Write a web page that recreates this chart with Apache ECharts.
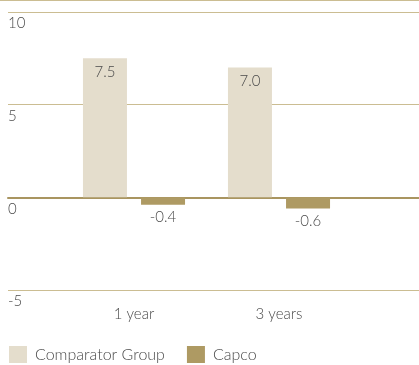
<!DOCTYPE html>
<html>
<head>
<meta charset="utf-8">
<script src="https://cdn.jsdelivr.net/npm/echarts@6/dist/echarts.min.js"></script>
<style>
  html, body { margin: 0; padding: 0; background: #ffffff; }
  #chart { width: 419px; height: 365px; }
</style>
</head>
<body>
<div id="chart"></div>
<script>
// Total shareholder return, annualised (%)
var categories = ['1 year', '3 years'];
var comparatorValues = [7.5, 7.0];
var capcoValues = [-0.4, -0.6];
var seriesNames = ['Comparator Group', 'Capco'];
var yTicks = { min: -5, max: 10, interval: 5 };

var FONT = 'Lato, "DejaVu Sans", sans-serif';
var TEXT = '#4a4a4a';
var GRID_COLOR = '#cbbd92';
var ZERO_COLOR = '#a99560';
var COMP_COLOR = '#e4ddcc';
var CAPCO_COLOR = '#ae9a63';

var chart = echarts.init(document.getElementById('chart'), null, { renderer: 'canvas' });

var labelStyle = { color: TEXT, fontFamily: FONT, fontSize: 15, fontWeight: 300 };

chart.setOption({
  animation: false,
  textStyle: { fontFamily: FONT },
  graphic: [{
    type: 'line',
    shape: { x1: 0, y1: 0.5, x2: 419, y2: 0.5 },
    style: { stroke: GRID_COLOR, lineWidth: 1 }
  }],
  grid: [
    { left: 8, right: 0, top: 12, bottom: 75 },
    { left: 61.5, width: 290, top: 12, bottom: 75 }
  ],
  legend: {
    data: seriesNames,
    left: 9,
    bottom: 2,
    padding: 0,
    itemWidth: 18,
    itemHeight: 17,
    itemGap: 22,
    icon: 'rect',
    textStyle: { color: TEXT, fontFamily: FONT, fontSize: 16, fontWeight: 300, padding: [0, 0, 0, 3] }
  },
  xAxis: [
    {
      gridIndex: 0, type: 'category', data: categories,
      axisLine: { show: true, onZero: true, lineStyle: { color: ZERO_COLOR, width: 2 } },
      axisTick: { show: false }, axisLabel: { show: false }, splitLine: { show: false }
    },
    {
      gridIndex: 1, type: 'category', data: categories,
      axisLine: { show: false }, axisTick: { show: false },
      axisLabel: { margin: 17, color: TEXT, fontFamily: FONT, fontSize: 15, fontWeight: 300 }
    }
  ],
  yAxis: [
    {
      gridIndex: 0, type: 'value',
      min: yTicks.min, max: yTicks.max, interval: yTicks.interval,
      axisLine: { show: false }, axisTick: { show: false },
      splitLine: { show: true, lineStyle: { color: GRID_COLOR, width: 1 } },
      axisLabel: {
        inside: true, margin: 0, align: 'left', verticalAlign: 'top',
        padding: [4, 0, 0, 0],
        color: TEXT, fontFamily: FONT, fontSize: 15, fontWeight: 300
      }
    },
    {
      gridIndex: 1, type: 'value',
      min: yTicks.min, max: yTicks.max, interval: yTicks.interval,
      show: false
    }
  ],
  series: [
    {
      name: seriesNames[0], type: 'bar', xAxisIndex: 1, yAxisIndex: 1,
      data: comparatorValues, barWidth: 44, barGap: '32%',
      itemStyle: { color: COMP_COLOR },
      label: Object.assign({ show: true, position: 'insideTop', distance: 6,
        formatter: function (p) { return p.value.toFixed(1); } }, labelStyle)
    },
    {
      name: seriesNames[1], type: 'bar', xAxisIndex: 1, yAxisIndex: 1,
      data: capcoValues, barWidth: 44, barGap: '32%',
      itemStyle: { color: CAPCO_COLOR },
      label: Object.assign({ show: true, position: 'bottom', distance: 5,
        formatter: function (p) { return p.value.toFixed(1); } }, labelStyle)
    }
  ]
});
</script>
</body>
</html>
